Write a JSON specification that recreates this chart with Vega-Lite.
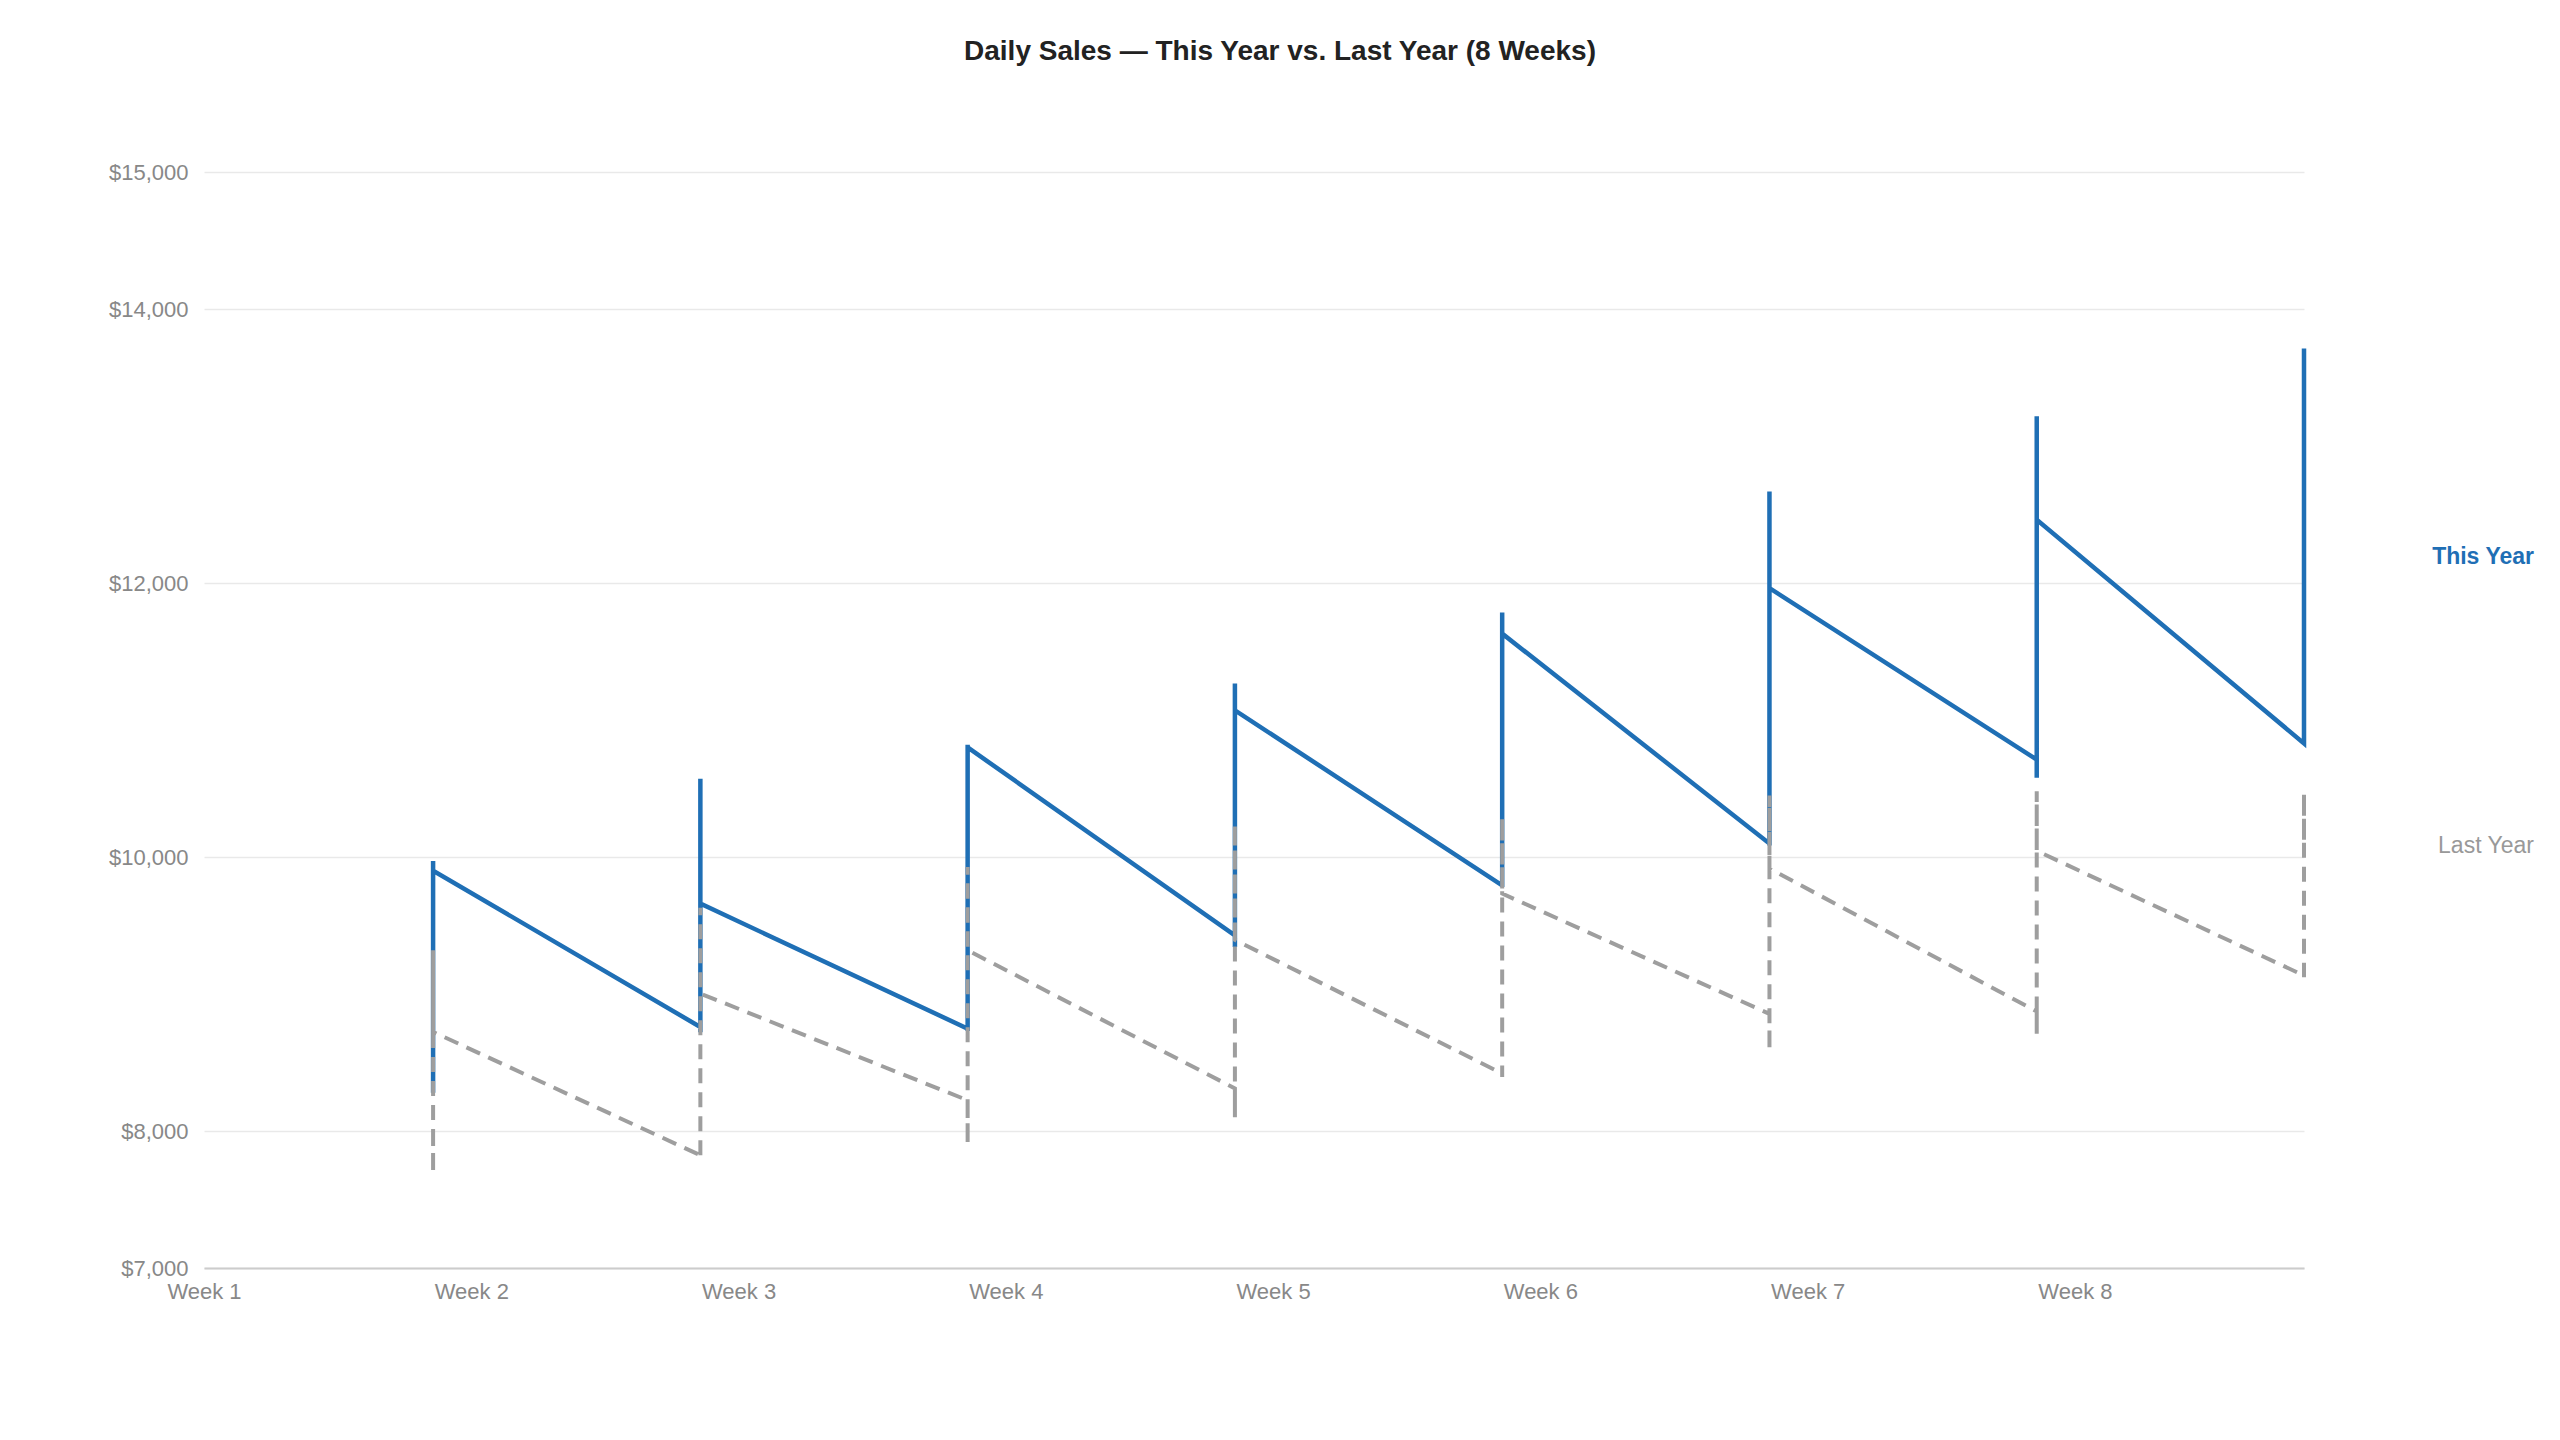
{
  "$schema": "https://vega.github.io/schema/vega-lite/v6.json",
  "autosize": "none",
  "width": 2100,
  "height": 1096,
  "padding": {"left": 204, "top": 172, "right": 256, "bottom": 172},
  "background": "#ffffff",
  "config": {
    "view": {"stroke": null},
    "font": "Liberation Sans"
  },
  "title": {
    "text": "Daily Sales — This Year vs. Last Year (8 Weeks)",
    "font": "Liberation Sans",
    "fontSize": 28,
    "fontWeight": "bold",
    "color": "#222222",
    "anchor": "middle",
    "baseline": "alphabetic",
    "dx": 26,
    "offset": 73
  },
  "data": {
    "values": [
      {"series": "This Year", "week": 1, "day": 1, "week_end": 6, "sales": 8600},
      {"series": "This Year", "week": 1, "day": 2, "week_end": 6, "sales": 8280},
      {"series": "This Year", "week": 1, "day": 3, "week_end": 6, "sales": 8700},
      {"series": "This Year", "week": 1, "day": 4, "week_end": 6, "sales": 9100},
      {"series": "This Year", "week": 1, "day": 5, "week_end": 6, "sales": 9500},
      {"series": "This Year", "week": 1, "day": 6, "week_end": 6, "sales": 9970},
      {"series": "This Year", "week": 1, "day": 7, "week_end": 6, "sales": 9900},
      {"series": "This Year", "week": 2, "day": 8, "week_end": 13, "sales": 8759},
      {"series": "This Year", "week": 2, "day": 9, "week_end": 13, "sales": 8720},
      {"series": "This Year", "week": 2, "day": 10, "week_end": 13, "sales": 9050},
      {"series": "This Year", "week": 2, "day": 11, "week_end": 13, "sales": 9400},
      {"series": "This Year", "week": 2, "day": 12, "week_end": 13, "sales": 10100},
      {"series": "This Year", "week": 2, "day": 13, "week_end": 13, "sales": 10572},
      {"series": "This Year", "week": 2, "day": 14, "week_end": 13, "sales": 9660},
      {"series": "This Year", "week": 3, "day": 15, "week_end": 20, "sales": 8747},
      {"series": "This Year", "week": 3, "day": 16, "week_end": 20, "sales": 8730},
      {"series": "This Year", "week": 3, "day": 17, "week_end": 20, "sales": 9200},
      {"series": "This Year", "week": 3, "day": 18, "week_end": 20, "sales": 9700},
      {"series": "This Year", "week": 3, "day": 19, "week_end": 20, "sales": 10300},
      {"series": "This Year", "week": 3, "day": 20, "week_end": 20, "sales": 10820},
      {"series": "This Year", "week": 3, "day": 21, "week_end": 20, "sales": 10800},
      {"series": "This Year", "week": 4, "day": 22, "week_end": 27, "sales": 9428},
      {"series": "This Year", "week": 4, "day": 23, "week_end": 27, "sales": 9343},
      {"series": "This Year", "week": 4, "day": 24, "week_end": 27, "sales": 9800},
      {"series": "This Year", "week": 4, "day": 25, "week_end": 27, "sales": 10300},
      {"series": "This Year", "week": 4, "day": 26, "week_end": 27, "sales": 10900},
      {"series": "This Year", "week": 4, "day": 27, "week_end": 27, "sales": 11266},
      {"series": "This Year", "week": 4, "day": 28, "week_end": 27, "sales": 11071},
      {"series": "This Year", "week": 5, "day": 29, "week_end": 34, "sales": 9793},
      {"series": "This Year", "week": 5, "day": 30, "week_end": 34, "sales": 9781},
      {"series": "This Year", "week": 5, "day": 31, "week_end": 34, "sales": 10200},
      {"series": "This Year", "week": 5, "day": 32, "week_end": 34, "sales": 10700},
      {"series": "This Year", "week": 5, "day": 33, "week_end": 34, "sales": 11300},
      {"series": "This Year", "week": 5, "day": 34, "week_end": 34, "sales": 11785},
      {"series": "This Year", "week": 5, "day": 35, "week_end": 34, "sales": 11631},
      {"series": "This Year", "week": 6, "day": 36, "week_end": 41, "sales": 10098},
      {"series": "This Year", "week": 6, "day": 37, "week_end": 41, "sales": 10084},
      {"series": "This Year", "week": 6, "day": 38, "week_end": 41, "sales": 10600},
      {"series": "This Year", "week": 6, "day": 39, "week_end": 41, "sales": 11200},
      {"series": "This Year", "week": 6, "day": 40, "week_end": 41, "sales": 11900},
      {"series": "This Year", "week": 6, "day": 41, "week_end": 41, "sales": 12667},
      {"series": "This Year", "week": 6, "day": 42, "week_end": 41, "sales": 11963},
      {"series": "This Year", "week": 7, "day": 43, "week_end": 48, "sales": 10711},
      {"series": "This Year", "week": 7, "day": 44, "week_end": 48, "sales": 10579},
      {"series": "This Year", "week": 7, "day": 45, "week_end": 48, "sales": 11200},
      {"series": "This Year", "week": 7, "day": 46, "week_end": 48, "sales": 11900},
      {"series": "This Year", "week": 7, "day": 47, "week_end": 48, "sales": 12600},
      {"series": "This Year", "week": 7, "day": 48, "week_end": 48, "sales": 13218},
      {"series": "This Year", "week": 7, "day": 49, "week_end": 48, "sales": 12462},
      {"series": "This Year", "week": 8, "day": 50, "week_end": 55, "sales": 10829},
      {"series": "This Year", "week": 8, "day": 51, "week_end": 55, "sales": 11300},
      {"series": "This Year", "week": 8, "day": 52, "week_end": 55, "sales": 11900},
      {"series": "This Year", "week": 8, "day": 53, "week_end": 55, "sales": 12600},
      {"series": "This Year", "week": 8, "day": 54, "week_end": 55, "sales": 13200},
      {"series": "This Year", "week": 8, "day": 55, "week_end": 55, "sales": 13711},
      {"series": "This Year", "week": 8, "day": 56, "week_end": 55, "sales": 12190},
      {"series": "Last Year", "week": 1, "day": 1, "week_end": 6, "sales": 8000},
      {"series": "Last Year", "week": 1, "day": 2, "week_end": 6, "sales": 7690},
      {"series": "Last Year", "week": 1, "day": 3, "week_end": 6, "sales": 8100},
      {"series": "Last Year", "week": 1, "day": 4, "week_end": 6, "sales": 8600},
      {"series": "Last Year", "week": 1, "day": 5, "week_end": 6, "sales": 9000},
      {"series": "Last Year", "week": 1, "day": 6, "week_end": 6, "sales": 9319},
      {"series": "Last Year", "week": 1, "day": 7, "week_end": 6, "sales": 8723},
      {"series": "Last Year", "week": 2, "day": 8, "week_end": 13, "sales": 7823},
      {"series": "Last Year", "week": 2, "day": 9, "week_end": 13, "sales": 7800},
      {"series": "Last Year", "week": 2, "day": 10, "week_end": 13, "sales": 8200},
      {"series": "Last Year", "week": 2, "day": 11, "week_end": 13, "sales": 8700},
      {"series": "Last Year", "week": 2, "day": 12, "week_end": 13, "sales": 9200},
      {"series": "Last Year", "week": 2, "day": 13, "week_end": 13, "sales": 9630},
      {"series": "Last Year", "week": 2, "day": 14, "week_end": 13, "sales": 9003},
      {"series": "Last Year", "week": 3, "day": 15, "week_end": 20, "sales": 8224},
      {"series": "Last Year", "week": 3, "day": 16, "week_end": 20, "sales": 7900},
      {"series": "Last Year", "week": 3, "day": 17, "week_end": 20, "sales": 8400},
      {"series": "Last Year", "week": 3, "day": 18, "week_end": 20, "sales": 8900},
      {"series": "Last Year", "week": 3, "day": 19, "week_end": 20, "sales": 9400},
      {"series": "Last Year", "week": 3, "day": 20, "week_end": 20, "sales": 9927},
      {"series": "Last Year", "week": 3, "day": 21, "week_end": 20, "sales": 9319},
      {"series": "Last Year", "week": 4, "day": 22, "week_end": 27, "sales": 8311},
      {"series": "Last Year", "week": 4, "day": 23, "week_end": 27, "sales": 8100},
      {"series": "Last Year", "week": 4, "day": 24, "week_end": 27, "sales": 8600},
      {"series": "Last Year", "week": 4, "day": 25, "week_end": 27, "sales": 9100},
      {"series": "Last Year", "week": 4, "day": 26, "week_end": 27, "sales": 9700},
      {"series": "Last Year", "week": 4, "day": 27, "week_end": 27, "sales": 10240},
      {"series": "Last Year", "week": 4, "day": 28, "week_end": 27, "sales": 9395},
      {"series": "Last Year", "week": 5, "day": 29, "week_end": 34, "sales": 8419},
      {"series": "Last Year", "week": 5, "day": 30, "week_end": 34, "sales": 8394},
      {"series": "Last Year", "week": 5, "day": 31, "week_end": 34, "sales": 8900},
      {"series": "Last Year", "week": 5, "day": 32, "week_end": 34, "sales": 9400},
      {"series": "Last Year", "week": 5, "day": 33, "week_end": 34, "sales": 9900},
      {"series": "Last Year", "week": 5, "day": 34, "week_end": 34, "sales": 10285},
      {"series": "Last Year", "week": 5, "day": 35, "week_end": 34, "sales": 9733},
      {"series": "Last Year", "week": 6, "day": 36, "week_end": 41, "sales": 8855},
      {"series": "Last Year", "week": 6, "day": 37, "week_end": 41, "sales": 8585},
      {"series": "Last Year", "week": 6, "day": 38, "week_end": 41, "sales": 9100},
      {"series": "Last Year", "week": 6, "day": 39, "week_end": 41, "sales": 9600},
      {"series": "Last Year", "week": 6, "day": 40, "week_end": 41, "sales": 10000},
      {"series": "Last Year", "week": 6, "day": 41, "week_end": 41, "sales": 10448},
      {"series": "Last Year", "week": 6, "day": 42, "week_end": 41, "sales": 9916},
      {"series": "Last Year", "week": 7, "day": 43, "week_end": 48, "sales": 8872},
      {"series": "Last Year", "week": 7, "day": 44, "week_end": 48, "sales": 8710},
      {"series": "Last Year", "week": 7, "day": 45, "week_end": 48, "sales": 9200},
      {"series": "Last Year", "week": 7, "day": 46, "week_end": 48, "sales": 9700},
      {"series": "Last Year", "week": 7, "day": 47, "week_end": 48, "sales": 10100},
      {"series": "Last Year", "week": 7, "day": 48, "week_end": 48, "sales": 10480},
      {"series": "Last Year", "week": 7, "day": 49, "week_end": 48, "sales": 10045},
      {"series": "Last Year", "week": 8, "day": 50, "week_end": 55, "sales": 9135},
      {"series": "Last Year", "week": 8, "day": 51, "week_end": 55, "sales": 9122},
      {"series": "Last Year", "week": 8, "day": 52, "week_end": 55, "sales": 9500},
      {"series": "Last Year", "week": 8, "day": 53, "week_end": 55, "sales": 9800},
      {"series": "Last Year", "week": 8, "day": 54, "week_end": 55, "sales": 10200},
      {"series": "Last Year", "week": 8, "day": 55, "week_end": 55, "sales": 10465},
      {"series": "Last Year", "week": 8, "day": 56, "week_end": 55, "sales": 10080}
    ]
  },
  "encoding": {
    "x": {
      "field": "week_end",
      "type": "quantitative",
      "title": null,
      "scale": {"domain": [0, 55], "nice": false, "zero": false},
      "axis": {
        "values": [0, 7, 14, 21, 28, 35, 42, 49],
        "labelExpr": "'Week ' + (datum.value / 7 + 1)",
        "grid": false,
        "ticks": false,
        "domain": true,
        "domainColor": "#cccccc",
        "domainWidth": 2,
        "labelFont": "Liberation Sans",
        "labelFontSize": 22,
        "labelColor": "#888888",
        "labelPadding": 13,
        "labelFlush": false
      }
    },
    "y": {
      "field": "sales",
      "type": "quantitative",
      "title": null,
      "scale": {"domain": [7000, 15000], "nice": false, "zero": false},
      "axis": {
        "values": [7000, 8000, 10000, 12000, 14000, 15000],
        "format": "$,.0f",
        "grid": true,
        "gridColor": "#e9e9e9",
        "gridWidth": 1.5,
        "ticks": false,
        "domain": false,
        "labelFont": "Liberation Sans",
        "labelFontSize": 22,
        "labelColor": "#888888",
        "labelPadding": 16
      }
    }
  },
  "layer": [
    {
      "transform": [{"filter": "datum.series === 'This Year'"}],
      "mark": {"type": "line", "color": "#1f6fb5", "strokeWidth": 4.5, "strokeJoin": "miter"},
      "encoding": {"order": {"field": "day", "type": "quantitative"}}
    },
    {
      "transform": [{"filter": "datum.series === 'Last Year'"}],
      "mark": {"type": "line", "color": "#9e9e9e", "strokeWidth": 4, "strokeDash": [15, 9]},
      "encoding": {"order": {"field": "day", "type": "quantitative"}}
    },
    {
      "transform": [{"filter": "datum.series === 'This Year' && datum.day === 56"}],
      "mark": {"type": "text", "align": "right", "baseline": "middle", "dx": 230, "font": "Liberation Sans", "fontSize": 23, "fontWeight": "bold", "color": "#1f6fb5"},
      "encoding": {"text": {"field": "series"}}
    },
    {
      "transform": [{"filter": "datum.series === 'Last Year' && datum.day === 56"}],
      "mark": {"type": "text", "align": "right", "baseline": "middle", "dx": 230, "font": "Liberation Sans", "fontSize": 23, "color": "#999999"},
      "encoding": {"text": {"field": "series"}}
    }
  ]
}
